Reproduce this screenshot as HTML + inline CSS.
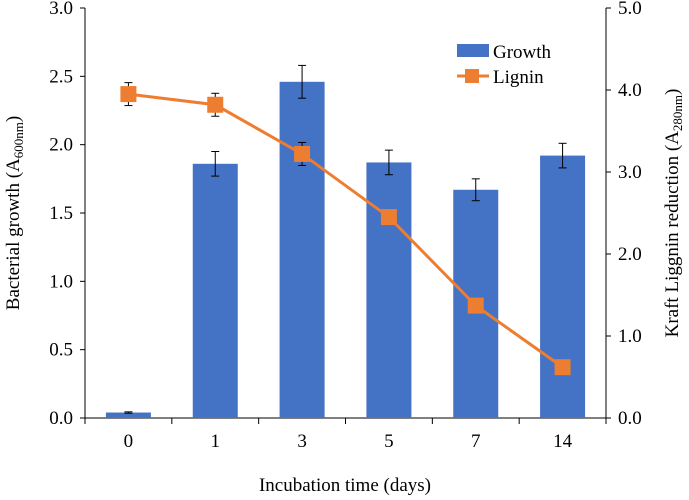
<!DOCTYPE html>
<html><head><meta charset="utf-8"><style>
body{margin:0;background:#fff;}
svg text{font-family:"Liberation Serif",serif;fill:#000;}
</style></head><body>
<svg id="c" width="689" height="495"></svg>
<script>
const categories=["0","1","3","5","7","14"];
const growth=[0.04,1.86,2.46,1.87,1.67,1.92];
const growthErr=[0.005,0.09,0.12,0.09,0.08,0.09];
const lignin=[3.95,3.82,3.22,2.45,1.37,0.62];
const ligninErr=[0.14,0.14,0.14,0.08,0.05,0.05];
const leftTicks=["0.0","0.5","1.0","1.5","2.0","2.5","3.0"];
const rightTicks=["0.0","1.0","2.0","3.0","4.0","5.0"];
const NS="http://www.w3.org/2000/svg";
const svg=document.getElementById('c');
const X0=85,X1=606,YT=8,YB=418;
const bw=(X1-X0)/categories.length;
const yL=v=>YB-(v/3)*(YB-YT);
const yR=v=>YB-(v/5)*(YB-YT);
const xC=i=>X0+bw*(i+0.5);
function mk(t,a,txt){const e=document.createElementNS(NS,t);for(const k in a)e.setAttribute(k,a[k]);if(txt!==undefined)e.textContent=txt;svg.appendChild(e);return e;}
let e;
e=mk('line',{x1:X0,y1:YT,x2:X0,y2:YB,stroke:'#000'});


e=mk('line',{x1:X1,y1:YT,x2:X1,y2:YB,stroke:'#000'});


e=mk('line',{x1:X0,y1:YB,x2:X1,y2:YB,stroke:'#000'});


leftTicks.forEach((t,i)=>{const y=yL(+t);mk('line',{x1:X0-5,y1:y,x2:X0,y2:y,stroke:'#000'});
e=mk('text',{x:X0-12,y:y+6,'text-anchor':'end','font-size':19},t);

});
rightTicks.forEach((t,i)=>{const y=yR(+t);mk('line',{x1:X1,y1:y,x2:X1+5,y2:y,stroke:'#000'});
e=mk('text',{x:X1+12,y:y+6,'font-size':19},t);

});
for(let i=0;i<=categories.length;i++){const x=X0+bw*i;mk('line',{x1:x,y1:YB,x2:x,y2:YB+6,stroke:'#000'});}
categories.forEach((c,i)=>{e=mk('text',{x:xC(i),y:YB+29,'text-anchor':'middle','font-size':19},c);

});
growth.forEach((v,i)=>{const w=45;
e=mk('rect',{x:xC(i)-w/2,y:yL(v),width:w,height:YB-yL(v),fill:'#4472C4'});


const x=xC(i),a=yL(v+growthErr[i]),b=yL(v-growthErr[i]);
mk('line',{x1:x,y1:a,x2:x,y2:b,stroke:'#000'});
mk('line',{x1:x-4,y1:a,x2:x+4,y2:a,stroke:'#000'});
mk('line',{x1:x-4,y1:b,x2:x+4,y2:b,stroke:'#000'});});
e=mk('polyline',{points:lignin.map((v,i)=>xC(i)+','+yR(v)).join(' '),fill:'none',stroke:'#ED7D31','stroke-width':3});


lignin.forEach((v,i)=>{const x=xC(i),a=yR(v+ligninErr[i]),b=yR(v-ligninErr[i]);
mk('line',{x1:x,y1:a,x2:x,y2:b,stroke:'#000'});
mk('line',{x1:x-4,y1:a,x2:x+4,y2:a,stroke:'#000'});
mk('line',{x1:x-4,y1:b,x2:x+4,y2:b,stroke:'#000'});
e=mk('rect',{x:x-8,y:yR(v)-8,width:16,height:16,fill:'#ED7D31'});

});
e=mk('rect',{x:457,y:44,width:32,height:13,fill:'#4472C4'});


e=mk('text',{x:493,y:58,'font-size':19},'Growth');


mk('line',{x1:457,y1:76,x2:489,y2:76,stroke:'#ED7D31','stroke-width':3});
e=mk('rect',{x:465,y:69,width:14,height:14,fill:'#ED7D31'});


e=mk('text',{x:493,y:83,'font-size':19},'Lignin');


e=mk('text',{x:345,y:491,'text-anchor':'middle','font-size':19},'Incubation time (days)');


e=mk('text',{transform:'translate(19,213) rotate(-90)','text-anchor':'middle','font-size':19});
e.innerHTML='Bacterial growth (A<tspan font-size="13" dy="4">600nm</tspan><tspan dy="-4">)</tspan>';


e=mk('text',{transform:'translate(678,213) rotate(-90)','text-anchor':'middle','font-size':19});
e.innerHTML='Kraft Liggnin reduction (A<tspan font-size="13" dy="4">280nm</tspan><tspan dy="-4">)</tspan>';


</script>
</body></html>
